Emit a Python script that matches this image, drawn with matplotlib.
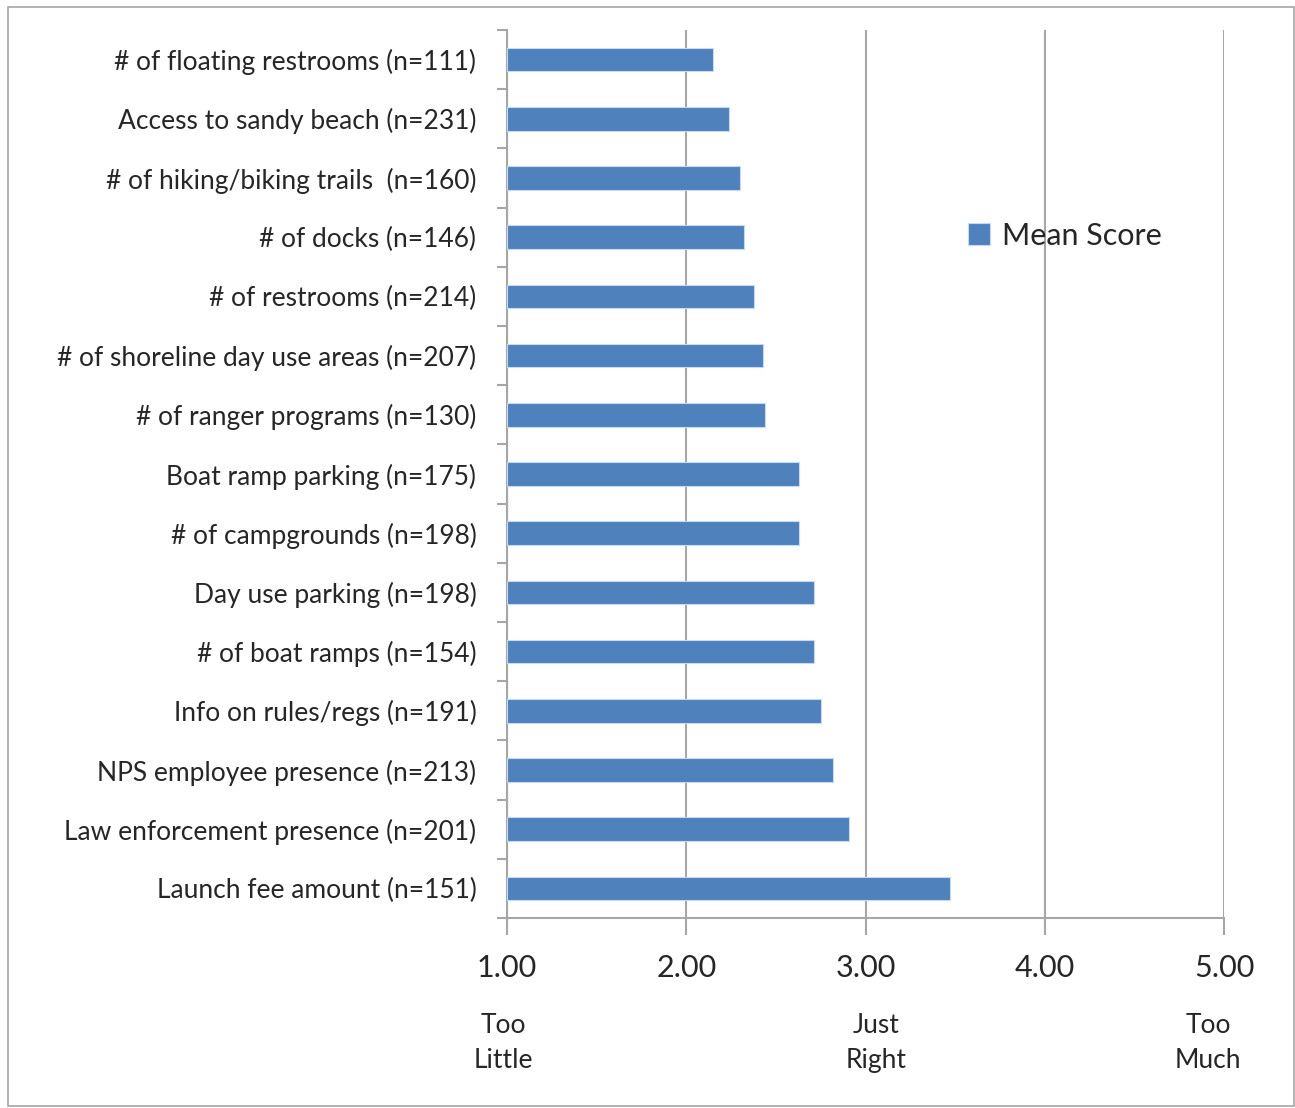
import numpy as np
import matplotlib.pyplot as plt
from matplotlib.patches import Rectangle

# Categories listed top to bottom as in the chart
categories = [
    "# of floating restrooms (n=111)",
    "Access to sandy beach (n=231)",
    "# of hiking/biking trails  (n=160)",
    "# of docks (n=146)",
    "# of restrooms (n=214)",
    "# of shoreline day use areas (n=207)",
    "# of ranger programs (n=130)",
    "Boat ramp parking (n=175)",
    "# of campgrounds (n=198)",
    "Day use parking (n=198)",
    "# of boat ramps (n=154)",
    "Info on rules/regs (n=191)",
    "NPS employee presence (n=213)",
    "Law enforcement presence (n=201)",
    "Launch fee amount (n=151)",
]
mean_scores = [2.15, 2.24, 2.30, 2.32, 2.38, 2.43, 2.44, 2.63, 2.63, 2.71, 2.71, 2.75, 2.82, 2.91, 3.47]
x_ticks = [1.0, 2.0, 3.0, 4.0, 5.0]
scale_labels = ["Too\nLittle", "Just\nRight", "Too\nMuch"]
scale_label_x = [0.98, 3.06, 4.91]

plt.rcParams['font.family'] = ['Lato', 'DejaVu Sans']
bar_color = "#4F81BD"
grid_color = "#A6A6A6"
text_color = "#262626"

fig = plt.figure(figsize=(12.95, 11.08), dpi=100)
ax = fig.add_axes([0.3915, 0.1715, 0.5537, 0.8014])

y = np.arange(len(categories))
ax.barh(y, [v - 1.0 for v in mean_scores], left=1.0, height=0.4,
        color=bar_color, edgecolor="#C6D9F1", linewidth=0.8, label="Mean Score", zorder=3)

ax.set_xlim(1.0, 5.0)
ax.set_ylim(len(categories) - 0.5, -0.5)
ax.set_xticks(x_ticks)
ax.set_xticklabels([f"{t:.2f}" for t in x_ticks], fontsize=22, color=text_color)
ax.tick_params(axis='x', length=12, width=1.5, color=grid_color, pad=14)

# category labels at centres, tick marks at boundaries
ax.set_yticks(y)
ax.set_yticklabels(categories, fontsize=19, color=text_color)
ax.tick_params(axis='y', which='major', length=0, pad=22)
ax.set_yticks(np.arange(-0.5, len(categories), 1.0), minor=True)
ax.tick_params(axis='y', which='minor', length=7, width=1.5, color=grid_color)

ax.grid(axis='x', color=grid_color, linewidth=1.5, zorder=0)
for side in ['top', 'right']:
    ax.spines[side].set_visible(False)
for side in ['left', 'bottom']:
    ax.spines[side].set_color(grid_color)
    ax.spines[side].set_linewidth(1.5)

leg = ax.legend(loc='upper left', bbox_to_anchor=(0.605, 0.815), frameon=False,
                fontsize=22, handlelength=0.7, handleheight=0.7, handletextpad=0.4)
for t in leg.get_texts():
    t.set_color(text_color)

# scale descriptions under the tick labels
for xv, lab in zip(scale_label_x, scale_labels):
    xf, _ = fig.transFigure.inverted().transform(ax.transData.transform((xv, 0)))
    fig.text(xf, 0.0585, lab, ha='center', va='center', fontsize=19,
             color=text_color, linespacing=1.5)

fig.patches.append(Rectangle((0.006, 0.002), 0.993, 0.992, transform=fig.transFigure,
                             fill=False, edgecolor="#A6A6A6", linewidth=1.2))

fig.savefig("out.png", dpi=100)
